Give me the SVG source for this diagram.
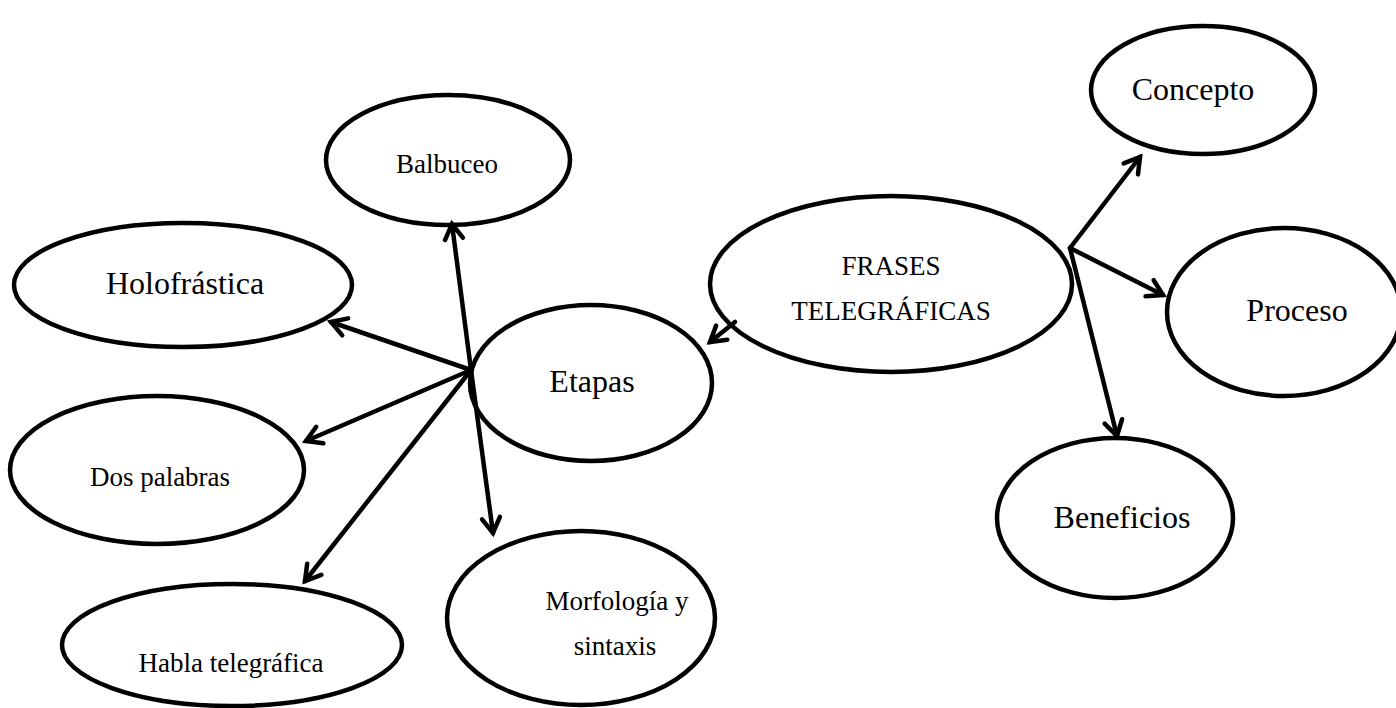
<svg xmlns="http://www.w3.org/2000/svg" width="1396" height="708" viewBox="0 0 1396 708">
<style>
.node ellipse{fill:#fff;stroke:#000;stroke-width:4.5}
.conn line{stroke:#000;stroke-width:4.5;stroke-linecap:round}
text{font-family:"Liberation Serif","Times New Roman",serif;fill:#000;text-anchor:middle}
.big{font-size:32px}
.small{font-size:27px}
</style>
<defs>
<marker id="arr" markerUnits="userSpaceOnUse" markerWidth="30" markerHeight="30" viewBox="-20 -15 30 30" refX="0" refY="0" orient="auto">
<path d="M-15,-9 L0,0 L-15,9" fill="none" stroke="#000" stroke-width="4.5" stroke-linecap="round" stroke-linejoin="miter"/>
</marker>
</defs>
<rect width="1396" height="708" fill="#fff"/>
<g id="n-balbuceo" class="node"><ellipse cx="448" cy="160" rx="122" ry="65"/><text class="small" x="447" y="173">Balbuceo</text></g>
<g id="n-holofrastica" class="node"><ellipse cx="183" cy="285" rx="169" ry="62"/><text class="big" x="185" y="294">Holofrástica</text></g>
<g id="n-etapas" class="node"><ellipse cx="591" cy="383" rx="121" ry="78"/><text class="big" x="592" y="392">Etapas</text></g>
<g id="n-frases" class="node"><ellipse cx="891" cy="284" rx="181" ry="88"/><text class="small" x="891" y="275">FRASES</text><text class="small" x="891" y="320">TELEGRÁFICAS</text></g>
<g id="n-concepto" class="node"><ellipse cx="1203" cy="90" rx="112" ry="64"/><text class="big" x="1193" y="100">Concepto</text></g>
<g id="n-proceso" class="node"><ellipse cx="1284" cy="312" rx="117" ry="84"/><text class="big" x="1297" y="321">Proceso</text></g>
<g id="n-beneficios" class="node"><ellipse cx="1115" cy="518" rx="118" ry="80"/><text class="big" x="1122" y="528">Beneficios</text></g>
<g id="n-dospalabras" class="node"><ellipse cx="157" cy="470" rx="147" ry="74"/><text class="small" x="160" y="486">Dos palabras</text></g>
<g id="n-habla" class="node"><ellipse cx="232" cy="645" rx="170" ry="61"/><text class="small" x="231" y="672">Habla telegráfica</text></g>
<g id="n-morfologia" class="node"><ellipse cx="581" cy="618" rx="134" ry="87"/><text class="small" x="617" y="610">Morfología y</text><text class="small" x="615" y="655">sintaxis</text></g>
<g id="connectors" class="conn">
<line x1="471" y1="370" x2="452" y2="224" marker-end="url(#arr)"/>
<line x1="471" y1="370" x2="331" y2="322" marker-end="url(#arr)"/>
<line x1="471" y1="370" x2="306" y2="441" marker-end="url(#arr)"/>
<line x1="471" y1="370" x2="305" y2="581" marker-end="url(#arr)"/>
<line x1="471" y1="370" x2="493" y2="533" marker-end="url(#arr)"/>
<line x1="735" y1="322" x2="710" y2="342" marker-end="url(#arr)"/>
<line x1="1070" y1="248" x2="1140" y2="157" marker-end="url(#arr)"/>
<line x1="1070" y1="248" x2="1163" y2="295" marker-end="url(#arr)"/>
<line x1="1070" y1="248" x2="1117" y2="436" marker-end="url(#arr)"/>
</g>
</svg>
